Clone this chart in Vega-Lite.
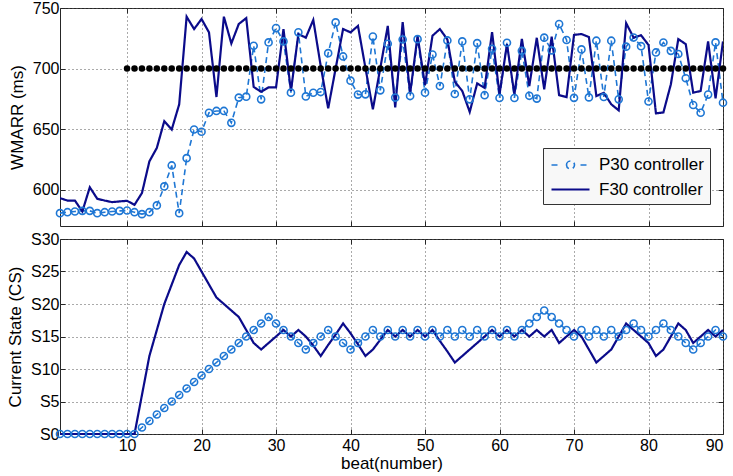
{
  "$schema": "https://vega.github.io/schema/vega-lite/v6.json",
  "padding": {"left": 6, "top": -1, "right": 11, "bottom": 0},
  "bounds": "flush",
  "background": "white",
  "config": {
    "font": "Liberation Sans",
    "view": {"stroke": "#262626", "strokeWidth": 1},
    "axis": {
      "labelFont": "Liberation Sans", "labelFontSize": 16, "labelColor": "#000",
      "titleFont": "Liberation Sans", "titleFontSize": 17, "titleFontWeight": "normal", "titleColor": "#000",
      "gridColor": "#555", "gridDash": [1, 3], "gridWidth": 1, "gridOpacity": 1,
      "domain": false, "tickColor": "#262626", "tickSize": -5, "labelPadding": 6
    }
  },
  "datasets": {
    "d": [
      {"beat":1,"series":"P30 controller","wmarr":580.6,"cs":0},
      {"beat":2,"series":"P30 controller","wmarr":581.4,"cs":0},
      {"beat":3,"series":"P30 controller","wmarr":582,"cs":0},
      {"beat":4,"series":"P30 controller","wmarr":582.5,"cs":0},
      {"beat":5,"series":"P30 controller","wmarr":582.5,"cs":0},
      {"beat":6,"series":"P30 controller","wmarr":580.6,"cs":0},
      {"beat":7,"series":"P30 controller","wmarr":581.4,"cs":0},
      {"beat":8,"series":"P30 controller","wmarr":582,"cs":0},
      {"beat":9,"series":"P30 controller","wmarr":582.5,"cs":0},
      {"beat":10,"series":"P30 controller","wmarr":582.8,"cs":0},
      {"beat":11,"series":"P30 controller","wmarr":581.4,"cs":0},
      {"beat":12,"series":"P30 controller","wmarr":579.8,"cs":1},
      {"beat":13,"series":"P30 controller","wmarr":581.4,"cs":2},
      {"beat":14,"series":"P30 controller","wmarr":587,"cs":3},
      {"beat":15,"series":"P30 controller","wmarr":602.7,"cs":4},
      {"beat":16,"series":"P30 controller","wmarr":620,"cs":5},
      {"beat":17,"series":"P30 controller","wmarr":580.6,"cs":6},
      {"beat":18,"series":"P30 controller","wmarr":626,"cs":7},
      {"beat":19,"series":"P30 controller","wmarr":649.7,"cs":8},
      {"beat":20,"series":"P30 controller","wmarr":647.8,"cs":9},
      {"beat":21,"series":"P30 controller","wmarr":663.5,"cs":10},
      {"beat":22,"series":"P30 controller","wmarr":665,"cs":11},
      {"beat":23,"series":"P30 controller","wmarr":665,"cs":12},
      {"beat":24,"series":"P30 controller","wmarr":655.2,"cs":13},
      {"beat":25,"series":"P30 controller","wmarr":676,"cs":14},
      {"beat":26,"series":"P30 controller","wmarr":676.8,"cs":15},
      {"beat":27,"series":"P30 controller","wmarr":718.8,"cs":16},
      {"beat":28,"series":"P30 controller","wmarr":674.6,"cs":17},
      {"beat":29,"series":"P30 controller","wmarr":721.6,"cs":18},
      {"beat":30,"series":"P30 controller","wmarr":733.4,"cs":17},
      {"beat":31,"series":"P30 controller","wmarr":722.4,"cs":16},
      {"beat":32,"series":"P30 controller","wmarr":680.1,"cs":15},
      {"beat":33,"series":"P30 controller","wmarr":729.9,"cs":14},
      {"beat":34,"series":"P30 controller","wmarr":677,"cs":13},
      {"beat":35,"series":"P30 controller","wmarr":680,"cs":14},
      {"beat":36,"series":"P30 controller","wmarr":680.6,"cs":15},
      {"beat":37,"series":"P30 controller","wmarr":712.7,"cs":16},
      {"beat":38,"series":"P30 controller","wmarr":738.1,"cs":15},
      {"beat":39,"series":"P30 controller","wmarr":710,"cs":14},
      {"beat":40,"series":"P30 controller","wmarr":690,"cs":13},
      {"beat":41,"series":"P30 controller","wmarr":678.5,"cs":14},
      {"beat":42,"series":"P30 controller","wmarr":678.7,"cs":15},
      {"beat":43,"series":"P30 controller","wmarr":726.4,"cs":16},
      {"beat":44,"series":"P30 controller","wmarr":682,"cs":15},
      {"beat":45,"series":"P30 controller","wmarr":720.5,"cs":16},
      {"beat":46,"series":"P30 controller","wmarr":676,"cs":15},
      {"beat":47,"series":"P30 controller","wmarr":724,"cs":16},
      {"beat":48,"series":"P30 controller","wmarr":677.3,"cs":15},
      {"beat":49,"series":"P30 controller","wmarr":724.3,"cs":16},
      {"beat":50,"series":"P30 controller","wmarr":680.1,"cs":15},
      {"beat":51,"series":"P30 controller","wmarr":711.6,"cs":16},
      {"beat":52,"series":"P30 controller","wmarr":685.6,"cs":15},
      {"beat":53,"series":"P30 controller","wmarr":723.2,"cs":16},
      {"beat":54,"series":"P30 controller","wmarr":679,"cs":15},
      {"beat":55,"series":"P30 controller","wmarr":722.4,"cs":16},
      {"beat":56,"series":"P30 controller","wmarr":674.6,"cs":15},
      {"beat":57,"series":"P30 controller","wmarr":721,"cs":16},
      {"beat":58,"series":"P30 controller","wmarr":678,"cs":15},
      {"beat":59,"series":"P30 controller","wmarr":716.3,"cs":16},
      {"beat":60,"series":"P30 controller","wmarr":675.7,"cs":15},
      {"beat":61,"series":"P30 controller","wmarr":721.3,"cs":16},
      {"beat":62,"series":"P30 controller","wmarr":675.7,"cs":15},
      {"beat":63,"series":"P30 controller","wmarr":714.6,"cs":16},
      {"beat":64,"series":"P30 controller","wmarr":677.5,"cs":17},
      {"beat":65,"series":"P30 controller","wmarr":675.2,"cs":18},
      {"beat":66,"series":"P30 controller","wmarr":725.5,"cs":19},
      {"beat":67,"series":"P30 controller","wmarr":715,"cs":18},
      {"beat":68,"series":"P30 controller","wmarr":736.8,"cs":17},
      {"beat":69,"series":"P30 controller","wmarr":723.6,"cs":16},
      {"beat":70,"series":"P30 controller","wmarr":675.8,"cs":15},
      {"beat":71,"series":"P30 controller","wmarr":715.8,"cs":16},
      {"beat":72,"series":"P30 controller","wmarr":676.2,"cs":15},
      {"beat":73,"series":"P30 controller","wmarr":723,"cs":16},
      {"beat":74,"series":"P30 controller","wmarr":676.5,"cs":15},
      {"beat":75,"series":"P30 controller","wmarr":723,"cs":16},
      {"beat":76,"series":"P30 controller","wmarr":674.6,"cs":15},
      {"beat":77,"series":"P30 controller","wmarr":718.1,"cs":16},
      {"beat":78,"series":"P30 controller","wmarr":725.6,"cs":17},
      {"beat":79,"series":"P30 controller","wmarr":718.5,"cs":16},
      {"beat":80,"series":"P30 controller","wmarr":672.8,"cs":15},
      {"beat":81,"series":"P30 controller","wmarr":713.3,"cs":16},
      {"beat":82,"series":"P30 controller","wmarr":721.5,"cs":17},
      {"beat":83,"series":"P30 controller","wmarr":714.6,"cs":16},
      {"beat":84,"series":"P30 controller","wmarr":712,"cs":15},
      {"beat":85,"series":"P30 controller","wmarr":692,"cs":14},
      {"beat":86,"series":"P30 controller","wmarr":669.9,"cs":13},
      {"beat":87,"series":"P30 controller","wmarr":663.5,"cs":14},
      {"beat":88,"series":"P30 controller","wmarr":678.5,"cs":15},
      {"beat":89,"series":"P30 controller","wmarr":721.6,"cs":16},
      {"beat":90,"series":"P30 controller","wmarr":671.8,"cs":15},
      {"beat":1,"series":"F30 controller","wmarr":593,"cs":0},
      {"beat":2,"series":"F30 controller","wmarr":591,"cs":0},
      {"beat":3,"series":"F30 controller","wmarr":591,"cs":0},
      {"beat":4,"series":"F30 controller","wmarr":582,"cs":0},
      {"beat":5,"series":"F30 controller","wmarr":602,"cs":0},
      {"beat":6,"series":"F30 controller","wmarr":592.5,"cs":0},
      {"beat":7,"series":"F30 controller","wmarr":591,"cs":0},
      {"beat":8,"series":"F30 controller","wmarr":589.7,"cs":0},
      {"beat":9,"series":"F30 controller","wmarr":590.3,"cs":0},
      {"beat":10,"series":"F30 controller","wmarr":590.8,"cs":0},
      {"beat":11,"series":"F30 controller","wmarr":587.5,"cs":0},
      {"beat":12,"series":"F30 controller","wmarr":597.2,"cs":6},
      {"beat":13,"series":"F30 controller","wmarr":623.4,"cs":12},
      {"beat":14,"series":"F30 controller","wmarr":634.5,"cs":16},
      {"beat":15,"series":"F30 controller","wmarr":656.6,"cs":20},
      {"beat":16,"series":"F30 controller","wmarr":649.7,"cs":23},
      {"beat":17,"series":"F30 controller","wmarr":670.4,"cs":26},
      {"beat":18,"series":"F30 controller","wmarr":742.8,"cs":28},
      {"beat":19,"series":"F30 controller","wmarr":732.6,"cs":27},
      {"beat":20,"series":"F30 controller","wmarr":740.9,"cs":25},
      {"beat":21,"series":"F30 controller","wmarr":729.9,"cs":23},
      {"beat":22,"series":"F30 controller","wmarr":676.5,"cs":21},
      {"beat":23,"series":"F30 controller","wmarr":742.8,"cs":20},
      {"beat":24,"series":"F30 controller","wmarr":720.7,"cs":19},
      {"beat":25,"series":"F30 controller","wmarr":736.8,"cs":18},
      {"beat":26,"series":"F30 controller","wmarr":741.7,"cs":16},
      {"beat":27,"series":"F30 controller","wmarr":684.8,"cs":14},
      {"beat":28,"series":"F30 controller","wmarr":680.8,"cs":13},
      {"beat":29,"series":"F30 controller","wmarr":684.5,"cs":14},
      {"beat":30,"series":"F30 controller","wmarr":684.5,"cs":15},
      {"beat":31,"series":"F30 controller","wmarr":732.6,"cs":16},
      {"beat":32,"series":"F30 controller","wmarr":681.5,"cs":15},
      {"beat":33,"series":"F30 controller","wmarr":728.5,"cs":16},
      {"beat":34,"series":"F30 controller","wmarr":725.5,"cs":15},
      {"beat":35,"series":"F30 controller","wmarr":740.2,"cs":13.6},
      {"beat":36,"series":"F30 controller","wmarr":702,"cs":12},
      {"beat":37,"series":"F30 controller","wmarr":667.1,"cs":13.7},
      {"beat":38,"series":"F30 controller","wmarr":700,"cs":15.3},
      {"beat":39,"series":"F30 controller","wmarr":732.6,"cs":17},
      {"beat":40,"series":"F30 controller","wmarr":729.9,"cs":15.5},
      {"beat":41,"series":"F30 controller","wmarr":735.2,"cs":13.8},
      {"beat":42,"series":"F30 controller","wmarr":700.6,"cs":12},
      {"beat":43,"series":"F30 controller","wmarr":666.3,"cs":13},
      {"beat":44,"series":"F30 controller","wmarr":700.5,"cs":14.5},
      {"beat":45,"series":"F30 controller","wmarr":735.2,"cs":16},
      {"beat":46,"series":"F30 controller","wmarr":667.9,"cs":15},
      {"beat":47,"series":"F30 controller","wmarr":738.3,"cs":16},
      {"beat":48,"series":"F30 controller","wmarr":679.4,"cs":15},
      {"beat":49,"series":"F30 controller","wmarr":727.1,"cs":16},
      {"beat":50,"series":"F30 controller","wmarr":686.3,"cs":15},
      {"beat":51,"series":"F30 controller","wmarr":727.1,"cs":16},
      {"beat":52,"series":"F30 controller","wmarr":732.6,"cs":14.3},
      {"beat":53,"series":"F30 controller","wmarr":724,"cs":12.7},
      {"beat":54,"series":"F30 controller","wmarr":689.1,"cs":11},
      {"beat":55,"series":"F30 controller","wmarr":681.5,"cs":12},
      {"beat":56,"series":"F30 controller","wmarr":664.2,"cs":13},
      {"beat":57,"series":"F30 controller","wmarr":687.7,"cs":14},
      {"beat":58,"series":"F30 controller","wmarr":684,"cs":15},
      {"beat":59,"series":"F30 controller","wmarr":730.1,"cs":16},
      {"beat":60,"series":"F30 controller","wmarr":678.7,"cs":15},
      {"beat":61,"series":"F30 controller","wmarr":720.2,"cs":16},
      {"beat":62,"series":"F30 controller","wmarr":678.7,"cs":15},
      {"beat":63,"series":"F30 controller","wmarr":724.5,"cs":16},
      {"beat":64,"series":"F30 controller","wmarr":685.6,"cs":15},
      {"beat":65,"series":"F30 controller","wmarr":725.4,"cs":16},
      {"beat":66,"series":"F30 controller","wmarr":682.9,"cs":15},
      {"beat":67,"series":"F30 controller","wmarr":726.3,"cs":16},
      {"beat":68,"series":"F30 controller","wmarr":678,"cs":14},
      {"beat":69,"series":"F30 controller","wmarr":676.5,"cs":15},
      {"beat":70,"series":"F30 controller","wmarr":727.8,"cs":16},
      {"beat":71,"series":"F30 controller","wmarr":728.5,"cs":15},
      {"beat":72,"series":"F30 controller","wmarr":726,"cs":13},
      {"beat":73,"series":"F30 controller","wmarr":677.3,"cs":11},
      {"beat":74,"series":"F30 controller","wmarr":680,"cs":12},
      {"beat":75,"series":"F30 controller","wmarr":670.5,"cs":13},
      {"beat":76,"series":"F30 controller","wmarr":665.5,"cs":15},
      {"beat":77,"series":"F30 controller","wmarr":737.5,"cs":17},
      {"beat":78,"series":"F30 controller","wmarr":725.5,"cs":16},
      {"beat":79,"series":"F30 controller","wmarr":727.5,"cs":15},
      {"beat":80,"series":"F30 controller","wmarr":719.5,"cs":14},
      {"beat":81,"series":"F30 controller","wmarr":663,"cs":12},
      {"beat":82,"series":"F30 controller","wmarr":663.8,"cs":13},
      {"beat":83,"series":"F30 controller","wmarr":687,"cs":15},
      {"beat":84,"series":"F30 controller","wmarr":724.3,"cs":17},
      {"beat":85,"series":"F30 controller","wmarr":720.2,"cs":16},
      {"beat":86,"series":"F30 controller","wmarr":680.1,"cs":14},
      {"beat":87,"series":"F30 controller","wmarr":681.5,"cs":15},
      {"beat":88,"series":"F30 controller","wmarr":722.4,"cs":16},
      {"beat":89,"series":"F30 controller","wmarr":675.4,"cs":15},
      {"beat":90,"series":"F30 controller","wmarr":722.4,"cs":16}
    ],
    "t": [
      {"beat":10,"target":700},{"beat":11,"target":700},{"beat":12,"target":700},{"beat":13,"target":700},{"beat":14,"target":700},
      {"beat":15,"target":700},{"beat":16,"target":700},{"beat":17,"target":700},{"beat":18,"target":700},{"beat":19,"target":700},
      {"beat":20,"target":700},{"beat":21,"target":700},{"beat":22,"target":700},{"beat":23,"target":700},{"beat":24,"target":700},
      {"beat":25,"target":700},{"beat":26,"target":700},{"beat":27,"target":700},{"beat":28,"target":700},{"beat":29,"target":700},
      {"beat":30,"target":700},{"beat":31,"target":700},{"beat":32,"target":700},{"beat":33,"target":700},{"beat":34,"target":700},
      {"beat":35,"target":700},{"beat":36,"target":700},{"beat":37,"target":700},{"beat":38,"target":700},{"beat":39,"target":700},
      {"beat":40,"target":700},{"beat":41,"target":700},{"beat":42,"target":700},{"beat":43,"target":700},{"beat":44,"target":700},
      {"beat":45,"target":700},{"beat":46,"target":700},{"beat":47,"target":700},{"beat":48,"target":700},{"beat":49,"target":700},
      {"beat":50,"target":700},{"beat":51,"target":700},{"beat":52,"target":700},{"beat":53,"target":700},{"beat":54,"target":700},
      {"beat":55,"target":700},{"beat":56,"target":700},{"beat":57,"target":700},{"beat":58,"target":700},{"beat":59,"target":700},
      {"beat":60,"target":700},{"beat":61,"target":700},{"beat":62,"target":700},{"beat":63,"target":700},{"beat":64,"target":700},
      {"beat":65,"target":700},{"beat":66,"target":700},{"beat":67,"target":700},{"beat":68,"target":700},{"beat":69,"target":700},
      {"beat":70,"target":700},{"beat":71,"target":700},{"beat":72,"target":700},{"beat":73,"target":700},{"beat":74,"target":700},
      {"beat":75,"target":700},{"beat":76,"target":700},{"beat":77,"target":700},{"beat":78,"target":700},{"beat":79,"target":700},
      {"beat":80,"target":700},{"beat":81,"target":700},{"beat":82,"target":700},{"beat":83,"target":700},{"beat":84,"target":700},
      {"beat":85,"target":700},{"beat":86,"target":700},{"beat":87,"target":700},{"beat":88,"target":700},{"beat":89,"target":700},
      {"beat":90,"target":700}
    ]
  },
  "spacing": 13,
  "vconcat": [
    {
      "width": 663,
      "height": 218,
      "resolve": {"axis": {"x": "independent", "y": "independent"}},
      "layer": [
        {
          "data": {"name": "d"},
          "mark": {"type": "line", "clip": true},
          "encoding": {
            "x": {"field": "beat", "type": "quantitative", "scale": {"domain": [1, 90], "nice": false, "zero": false},
                  "axis": {"orient": "bottom", "values": [10, 20, 30, 40, 50, 60, 70, 80, 90], "labels": false, "title": null, "grid": true}},
            "y": {"field": "wmarr", "type": "quantitative", "scale": {"domain": [570, 750], "nice": false, "zero": false},
                  "axis": {"orient": "left", "values": [600, 650, 700, 750], "title": "WMARR (ms)", "grid": true, "titlePadding": 6}},
            "color": {"field": "series", "type": "nominal",
                      "scale": {"domain": ["P30 controller", "F30 controller"], "range": ["#1f77d4", "#0b0b8a"]},
                      "legend": {
                        "orient": "none", "legendX": 483, "legendY": 140, "title": null,
                        "fillColor": "#f8f8f8", "strokeColor": "#333333", "padding": 6,
                        "symbolSize": 400, "symbolStrokeWidth": 1.8,
                        "labelFont": "Liberation Sans", "labelFontSize": 17, "labelColor": "#000", "labelOffset": 27,
                        "rowPadding": 5,
                        "encode": {"symbols": {"update": {
                          "shape": {"signal": "datum.value === 'P30 controller' ? 'M-0.9,0H-0.1M2,0H2.9M0.6,0A0.4,0.4 0 1 1 1.4,0A0.4,0.4 0 1 1 0.6,0' : 'M-0.9,0H2.9'"},
                          "fill": {"value": "transparent"},
                          "strokeDash": {"value": [1, 0]},
                          "strokeWidth": {"value": 1.8}
                        }}}
                      }},
            "strokeDash": {"field": "series", "type": "nominal",
                           "scale": {"domain": ["P30 controller", "F30 controller"], "range": [[6, 4], [1, 0]]}, "legend": null},
            "strokeWidth": {"field": "series", "type": "nominal",
                            "scale": {"domain": ["P30 controller", "F30 controller"], "range": [1.6, 2.2]}, "legend": null}
          }
        },
        {
          "data": {"name": "d"},
          "transform": [{"filter": "datum.series === 'P30 controller'"}],
          "mark": {"type": "point", "filled": false, "size": 50, "strokeWidth": 1.6, "color": "#1f77d4", "opacity": 1},
          "encoding": {
            "x": {"field": "beat", "type": "quantitative", "axis": null},
            "y": {"field": "wmarr", "type": "quantitative", "axis": null}
          }
        },
        {
          "data": {"name": "t"},
          "mark": {"type": "circle", "size": 42, "color": "#000000", "opacity": 1},
          "encoding": {
            "x": {"field": "beat", "type": "quantitative",
                  "axis": {"orient": "top", "values": [10, 20, 30, 40, 50, 60, 70, 80, 90], "labels": false, "title": null, "grid": false}},
            "y": {"field": "target", "type": "quantitative",
                  "axis": {"orient": "right", "values": [600, 650, 700, 750], "labels": false, "title": null, "grid": false}}
          }
        }
      ]
    },
    {
      "width": 663,
      "height": 195,
      "resolve": {"axis": {"x": "independent", "y": "independent"}},
      "layer": [
        {
          "data": {"name": "d"},
          "mark": {"type": "line"},
          "encoding": {
            "x": {"field": "beat", "type": "quantitative", "scale": {"domain": [1, 90], "nice": false, "zero": false},
                  "axis": {"orient": "bottom", "values": [10, 20, 30, 40, 50, 60, 70, 80, 90], "title": "beat(number)", "grid": true, "titlePadding": 2, "labelPadding": 8}},
            "y": {"field": "cs", "type": "quantitative", "scale": {"domain": [0, 30], "nice": false},
                  "axis": {"orient": "left", "values": [0, 5, 10, 15, 20, 25, 30], "labelExpr": "'S' + datum.value", "title": "Current State (CS)", "grid": true, "titlePadding": 6}},
            "color": {"field": "series", "type": "nominal",
                      "scale": {"domain": ["P30 controller", "F30 controller"], "range": ["#1f77d4", "#0b0b8a"]}, "legend": null},
            "strokeDash": {"field": "series", "type": "nominal",
                           "scale": {"domain": ["P30 controller", "F30 controller"], "range": [[1, 0], [1, 0]]}, "legend": null},
            "strokeWidth": {"field": "series", "type": "nominal",
                            "scale": {"domain": ["P30 controller", "F30 controller"], "range": [1.6, 2.2]}, "legend": null}
          }
        },
        {
          "data": {"name": "d"},
          "transform": [{"filter": "datum.series === 'P30 controller'"}],
          "mark": {"type": "point", "filled": false, "size": 50, "strokeWidth": 1.6, "color": "#1f77d4", "opacity": 1},
          "encoding": {
            "x": {"field": "beat", "type": "quantitative",
                  "axis": {"orient": "top", "values": [10, 20, 30, 40, 50, 60, 70, 80, 90], "labels": false, "title": null, "grid": false}},
            "y": {"field": "cs", "type": "quantitative",
                  "axis": {"orient": "right", "values": [0, 5, 10, 15, 20, 25, 30], "labels": false, "title": null, "grid": false}}
          }
        }
      ]
    }
  ]
}
